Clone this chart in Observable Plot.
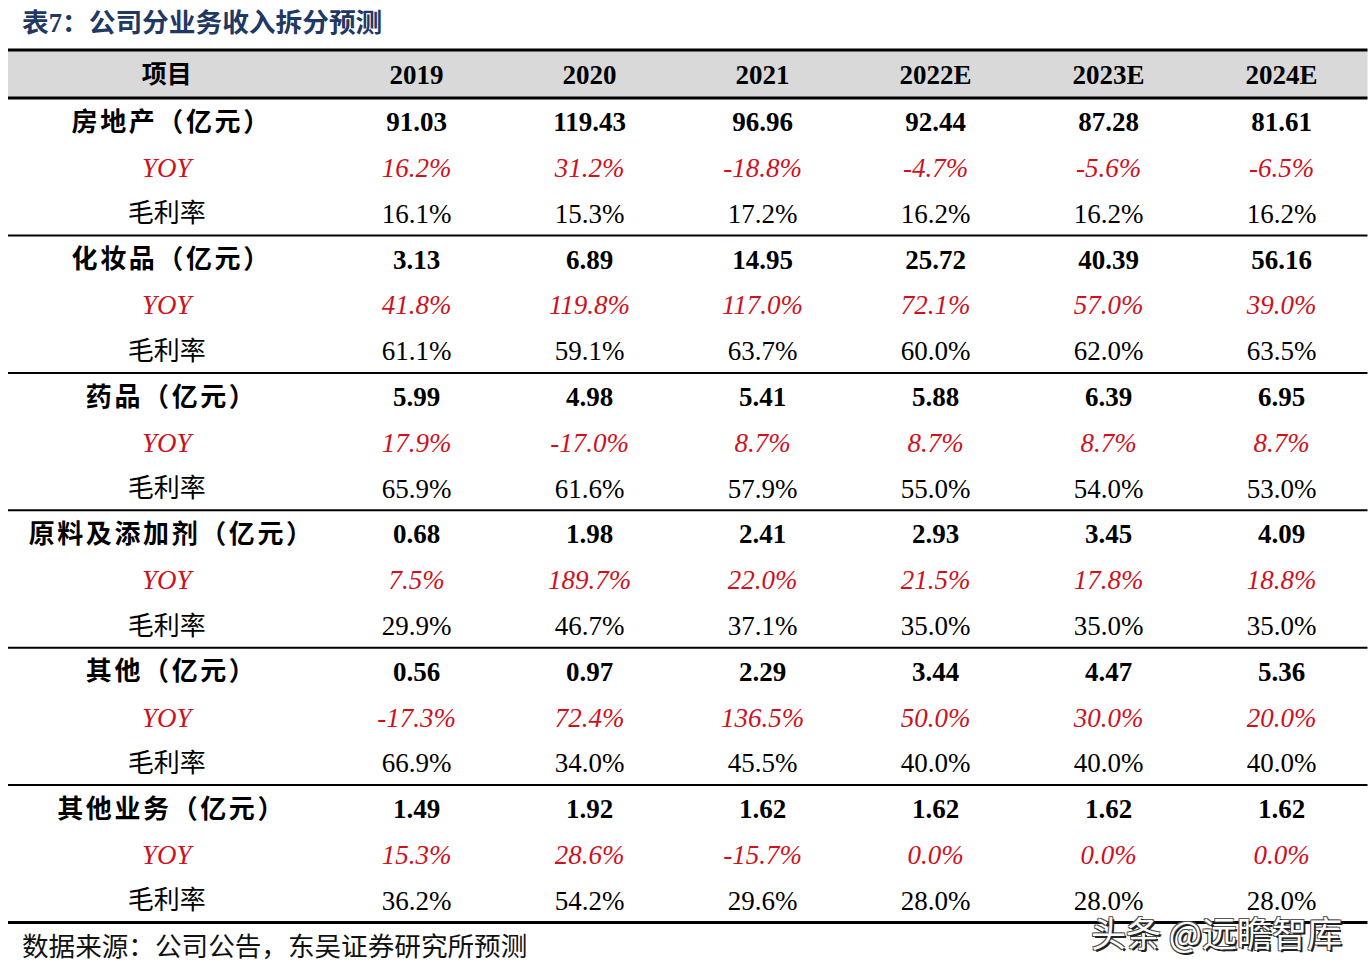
<!DOCTYPE html>
<html>
<head>
<meta charset="utf-8">
<script src="https://cdn.jsdelivr.net/npm/d3@7"></script>
<script src="https://cdn.jsdelivr.net/npm/@observablehq/plot@0.6"></script>
<style>
  html, body { margin: 0; padding: 0; background: #fff; }
  #page { position: relative; width: 1371px; height: 974px; overflow: hidden; }
  #title { height: 44px; line-height: 46px; padding-left: 22px; font-family: "Liberation Serif", "Noto Sans CJK SC", serif; font-weight: 700; font-size: 26.7px; color: #1f3864; white-space: nowrap; }
  #chart svg { display: block; }
  #chart svg g[font-family="Noto Sans CJK SC, Noto Sans CJK JP, sans-serif"] text { letter-spacing: 2.6px; }
  #caption { height: 30px; line-height: 30px; padding-left: 22px; font-family: "Noto Sans CJK SC", sans-serif; font-weight: 400; font-size: 26.6px; color: #111; white-space: nowrap; }
  #wm { position: absolute; left: 1091px; top: 906px; font-family: "Noto Sans CJK SC", sans-serif; font-size: 35px; color: #fff; white-space: nowrap;
        text-shadow: 2px 2px 0 #222, -1px -1px 0 #555, 1px -1px 0 #555, -1px 1px 0 #555; z-index: 5; }
</style>
</head>
<body>
<div id="page">
  <div id="title">表7：公司分业务收入拆分预测</div>
  <div id="chart"></div>
  <div id="caption">数据来源：公司公告，东吴证券研究所预测</div>
  <div id="wm">头条 @远瞻智库</div>
</div>
<script>
// ---- data ----
const headerLabel = "项目";
const years = ["2019", "2020", "2021", "2022E", "2023E", "2024E"];
const segments = ["房地产（亿元）", "化妆品（亿元）", "药品（亿元）", "原料及添加剂（亿元）", "其他（亿元）", "其他业务（亿元）"];
const subLabels = ["YOY", "毛利率"];
const revenue = [
  [91.03, 119.43, 96.96, 92.44, 87.28, 81.61],
  [3.13, 6.89, 14.95, 25.72, 40.39, 56.16],
  [5.99, 4.98, 5.41, 5.88, 6.39, 6.95],
  [0.68, 1.98, 2.41, 2.93, 3.45, 4.09],
  [0.56, 0.97, 2.29, 3.44, 4.47, 5.36],
  [1.49, 1.92, 1.62, 1.62, 1.62, 1.62]
];
const yoy = [
  [16.2, 31.2, -18.8, -4.7, -5.6, -6.5],
  [41.8, 119.8, 117.0, 72.1, 57.0, 39.0],
  [17.9, -17.0, 8.7, 8.7, 8.7, 8.7],
  [7.5, 189.7, 22.0, 21.5, 17.8, 18.8],
  [-17.3, 72.4, 136.5, 50.0, 30.0, 20.0],
  [15.3, 28.6, -15.7, 0.0, 0.0, 0.0]
];
const grossMargin = [
  [16.1, 15.3, 17.2, 16.2, 16.2, 16.2],
  [61.1, 59.1, 63.7, 60.0, 62.0, 63.5],
  [65.9, 61.6, 57.9, 55.0, 54.0, 53.0],
  [29.9, 46.7, 37.1, 35.0, 35.0, 35.0],
  [66.9, 34.0, 45.5, 40.0, 40.0, 40.0],
  [36.2, 54.2, 29.6, 28.0, 28.0, 28.0]
];

// ---- layout (in column / row units) ----
const LABEL_UNITS = 321.5 / 173;     // label column width, in year-column units
const HEADER_UNITS = 1.05;           // header row height, in body-row units
const ROWS_PER_GROUP = 3;
const NROWS = segments.length * ROWS_PER_GROUP;
const XMAX = LABEL_UNITS + years.length;
const labelX = LABEL_UNITS / 2 - 0.015;

const labels = [];
const cells = [];
segments.forEach((seg, g) => {
  const r0 = g * ROWS_PER_GROUP;
  labels.push({row: r0 + 0.5, text: seg, kind: "seg"});
  labels.push({row: r0 + 1.5, text: subLabels[0], kind: "yoy"});
  labels.push({row: r0 + 2.5, text: subLabels[1], kind: "gm"});
  years.forEach((y, i) => {
    const cx = LABEL_UNITS + i + 0.5;
    cells.push({x: cx, row: r0 + 0.5, text: revenue[g][i].toFixed(2), kind: "rev"});
    cells.push({x: cx, row: r0 + 1.5, text: yoy[g][i].toFixed(1) + "%", kind: "yoy"});
    cells.push({x: cx, row: r0 + 2.5, text: grossMargin[g][i].toFixed(1) + "%", kind: "gm"});
  });
});
const headerYears = years.map((y, i) => ({x: LABEL_UNITS + i + 0.5, text: y}));
const separators = d3.range(ROWS_PER_GROUP, NROWS, ROWS_PER_GROUP);

const SERIF = "Liberation Serif, Times New Roman, serif";
const CJK = "Noto Sans CJK SC, sans-serif";
const CJK_WIDE = "Noto Sans CJK SC, Noto Sans CJK JP, sans-serif"; // segment labels (letter-spaced via CSS)
const RED = "#d0101c";
const hY = -HEADER_UNITS / 2;
const DY = 1.5;

const chart = Plot.plot({
  width: 1371,
  height: 886,
  marginLeft: 8,
  marginRight: 3.5,
  marginTop: 5.5,
  marginBottom: 8,
  x: {type: "linear", domain: [0, XMAX], axis: null},
  y: {type: "linear", domain: [-HEADER_UNITS, NROWS], reverse: true, axis: null},
  marks: [
    Plot.rect([0], {x1: 0, x2: XMAX, y1: -HEADER_UNITS, y2: 0, fill: "#d9d9d9"}),
    Plot.ruleY([-HEADER_UNITS, 0, NROWS], {x1: 0, x2: XMAX, stroke: "#000", strokeWidth: 3}),
    Plot.ruleY(separators, {x1: 0, x2: XMAX, stroke: "#000", strokeWidth: 2}),
    // header
    Plot.text([headerLabel], {x: labelX, y: hY, text: d => d, fontFamily: CJK, fontWeight: 700, fontSize: 25, fill: "#000", dy: 0.5}),
    Plot.text(headerYears, {x: "x", y: hY, text: "text", fontFamily: SERIF, fontWeight: 700, fontSize: 27, fill: "#000", dy: 1}),
    // row labels
    Plot.text(labels.filter(d => d.kind === "seg"), {x: labelX, y: "row", text: "text", fontFamily: CJK_WIDE, fontWeight: 700, fontSize: 26, fill: "#000", dy: DY, dx: 5}),
    Plot.text(labels.filter(d => d.kind === "yoy"), {x: labelX, y: "row", text: "text", fontFamily: SERIF, fontStyle: "italic", fontSize: 27, fill: RED, dy: DY}),
    Plot.text(labels.filter(d => d.kind === "gm"), {x: labelX, y: "row", text: "text", fontFamily: CJK, fontWeight: 400, fontSize: 26, fill: "#000", dy: DY}),
    // cells
    Plot.text(cells.filter(d => d.kind === "rev"), {x: "x", y: "row", text: "text", fontFamily: SERIF, fontWeight: 700, fontSize: 27, fill: "#000", dy: DY}),
    Plot.text(cells.filter(d => d.kind === "yoy"), {x: "x", y: "row", text: "text", fontFamily: SERIF, fontStyle: "italic", fontSize: 27, fill: RED, dy: DY}),
    Plot.text(cells.filter(d => d.kind === "gm"), {x: "x", y: "row", text: "text", fontFamily: SERIF, fontWeight: 400, fontSize: 27, fill: "#000", dy: DY})
  ]
});
document.getElementById("chart").appendChild(chart);
</script>
</body>
</html>
